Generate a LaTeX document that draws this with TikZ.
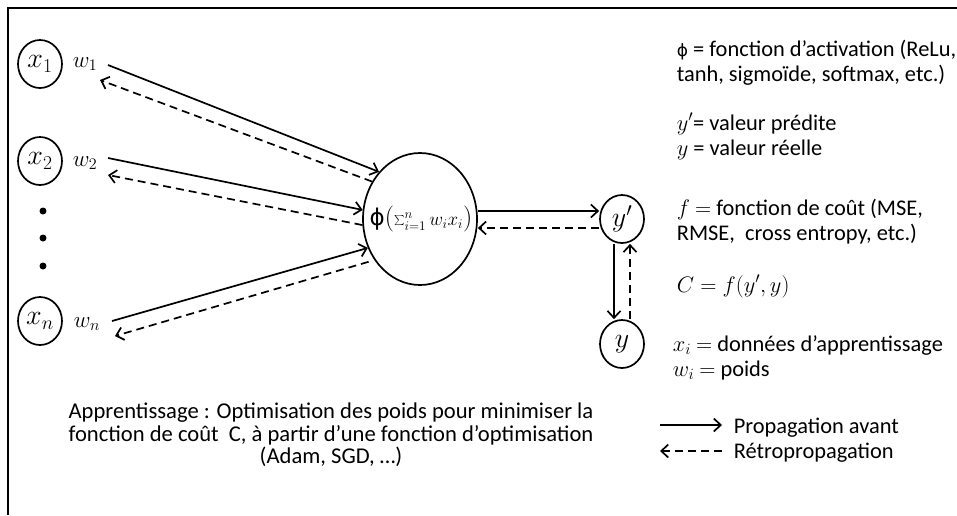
\RequirePackage{fix-cm}
\documentclass[tikz,border=0pt]{standalone}
\usepackage{fontspec}
\setmainfont{Carlito}
\newfontfamily\phifont{DejaVu Sans}
\usetikzlibrary{shapes.geometric,arrows.meta}
\begin{document}
\begin{tikzpicture}[x=1pt,y=-1pt,line width=1.7pt,
  neuron/.style={draw,ellipse,minimum width=44pt,minimum height=48pt,inner sep=0pt,font=\fontsize{28}{28}\selectfont},
  wlab/.style={inner sep=0pt,font=\fontsize{23}{23}\selectfont},
  dotnode/.style={circle,fill,inner sep=0pt,minimum size=7pt},
  fwd/.style={-{Straight Barb[length=7pt,width=13pt]}},
  bwd/.style={-{Straight Barb[length=7pt,width=13pt]},dash pattern=on 8pt off 5pt},
  txt/.style={anchor=base west,inner sep=0pt,font=\fontsize{22.4}{22.4}\selectfont},
]
\useasboundingbox (0,0) rectangle (957,515);
\draw (8,515) -- (8,8) -- (957,8);

% inputs
\node[neuron] (x1) at (40,64) {$x_1$};
\node[neuron] (x2) at (40,161) {$x_2$};
\node[neuron] (xn) at (40,321) {$x_n$};
\node[dotnode] (d1) at (43,211) {};
\node[dotnode] (d2) at (43,238) {};
\node[dotnode] (d3) at (43,266) {};
\node[wlab] (w1) at (85,64) {$w_1$};
\node[wlab] (w2) at (85,163) {$w_2$};
\node[wlab] (wn) at (87,324) {$w_n$};

% neuron
\node[draw,ellipse,minimum width=114pt,minimum height=132pt,inner sep=0pt] (phi) at (420,219) {};
\node[inner sep=0pt] (phit) at (421,219) {{\phifont\fontsize{23}{23}\selectfont ϕ}\fontsize{26}{26}\selectfont$($\fontsize{19}{19}\selectfont$\sum_{i=1}^{n} w_ix_i$\fontsize{26}{26}\selectfont$)$};

% outputs
\node[neuron] (yp) at (622,219) {$y'$};
\node[neuron] (y) at (622,344) {$y$};

% connectors
\coordinate (a1) at (108,65);
\coordinate (b1) at (100,80);
\coordinate (a2) at (108,158);
\coordinate (b2) at (108,175);
\coordinate (an) at (112,321);
\coordinate (bn) at (115,336);
\draw[fwd] (a1) -- (phi.131);
\draw[bwd] (phi.142) -- (b1);
\draw[fwd] (a2) -- (phi.171);
\draw[bwd] (phi.186) -- (b2);
\draw[fwd] (an) -- (phi.209);
\draw[bwd,shorten <=6pt] (phi.222) -- (bn);
\draw[fwd] ([yshift=8pt]phi.east) -- ([yshift=8pt]yp.west);
\draw[bwd] ([yshift=-9pt]yp.west) -- ([yshift=-9pt]phi.east);
\draw[fwd] ([xshift=-8pt]yp.south) -- ([xshift=-8pt]y.north);
\draw[bwd] ([xshift=8pt]y.north) -- ([xshift=8pt]yp.south);

% right texts
\node[txt] (t1) at (676,56) {{\phifont\fontsize{17}{17}\selectfont ϕ} = fonction d’activation (ReLu,};
\node[txt] (t2) at (676,81) {tanh, sigmoïde, softmax, etc.)};
\node[txt] (t3) at (676,130) {$y'$= valeur prédite};
\node[txt] (t4) at (676,155) {$y$ = valeur réelle};
\node[txt] (t5) at (676,215) {$f$ $=$ fonction de coût (MSE,};
\node[txt] (t6) at (676,240) {RMSE,\ \ cross entropy, etc.)};
\node[txt] (t7) at (676,292) {$C = f(y',y)$};
\node[txt] (t8) at (672,351) {$x_i$ $=$ données d’apprentissage};
\node[txt] (t9) at (672,376) {$w_i$ $=$ poids};

% bottom text
\node[align=center,inner sep=0pt,font=\fontsize{22.6}{22.5}\selectfont] (learn) at (331,435)
  {Apprentissage : Optimisation des poids pour minimiser la\\
   fonction de coût\ \ C, à partir d’une fonction d’optimisation\\
   (Adam, SGD, …)};

% legend
\coordinate (la) at (660,425);
\coordinate (lb) at (722,425);
\coordinate (lc) at (722,451);
\coordinate (ld) at (660,451);
\draw[fwd] (la) -- (lb);
\draw[bwd] (lc) -- (ld);
\node[txt,anchor=west] (l1) at (733,428) {Propagation avant};
\node[txt,anchor=west] (l2) at (733,453) {Rétropropagation};
\end{tikzpicture}
\end{document}
